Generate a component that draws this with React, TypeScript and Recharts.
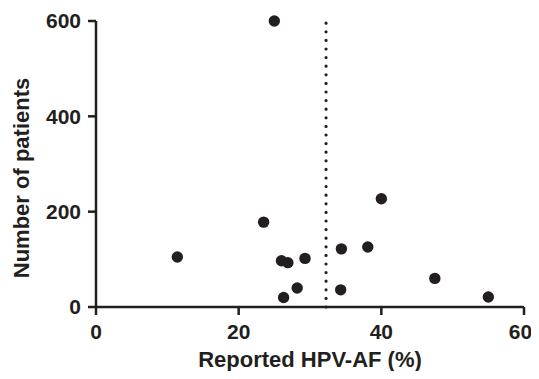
import { ScatterChart, Scatter, XAxis, YAxis, ReferenceLine, Label } from "recharts";

const hpvAf = [25, 11.4, 23.5, 26, 26.9, 29.3, 28.2, 26.3, 40, 34.4, 38.1, 34.3, 47.5, 55];
const patients = [600, 105, 178, 97, 93, 102, 40, 20, 227, 122, 126, 36, 60, 21];
const xTicks = [0, 20, 40, 60];
const yTicks = [0, 200, 400, 600];
const cutoff = 32.25;

const points = hpvAf.map((x, i) => ({ x, y: patients[i] }));

const ink = "#231f20";
const font = "'Liberation Sans', Arial, Helvetica, sans-serif";
const tickStyle = { fontFamily: font, fontWeight: 700, fontSize: 21, fill: ink };

const Dot = (p: any) => <circle cx={p.cx} cy={p.cy} r={5.7} fill={ink} />;

export default function App() {
  return (
    <ScatterChart width={523} height={363} margin={{ top: 13, right: 7, left: 0, bottom: 0 }}>
      <XAxis
        type="number"
        dataKey="x"
        domain={[0, 60]}
        ticks={xTicks}
        height={64}
        tickSize={8}
        tickMargin={9}
        axisLine={{ stroke: ink, strokeWidth: 2.5 }}
        tickLine={{ stroke: ink, strokeWidth: 2.5 }}
        tick={tickStyle}
      >
        <Label
          value="Reported HPV-AF (%)"
          position="insideBottom"
          offset={4}
          style={{ fontFamily: font, fontWeight: 700, fontSize: 22, fill: ink }}
        />
      </XAxis>
      <YAxis
        type="number"
        dataKey="y"
        domain={[0, 600]}
        ticks={yTicks}
        width={88}
        tickSize={8}
        tickMargin={7}
        axisLine={{ stroke: ink, strokeWidth: 2.5 }}
        tickLine={{ stroke: ink, strokeWidth: 2.5 }}
        tick={tickStyle}
      >
        <Label
          content={({ viewBox }: any) => {
            const cx = 21;
            const cy = viewBox.y + viewBox.height / 2 + 14;
            return (
              <text
                x={cx}
                y={cy}
                transform={`rotate(-90, ${cx}, ${cy})`}
                textAnchor="middle"
                style={{ fontFamily: font, fontWeight: 700, fontSize: 22, fill: ink }}
              >
                Number of patients
              </text>
            );
          }}
        />
      </YAxis>
      <ReferenceLine
        x={cutoff}
        stroke={ink}
        strokeWidth={3.2}
        strokeDasharray="0 8.6"
        strokeLinecap="round"
      />
      <Scatter data={points} shape={Dot} isAnimationActive={false} />
    </ScatterChart>
  );
}
